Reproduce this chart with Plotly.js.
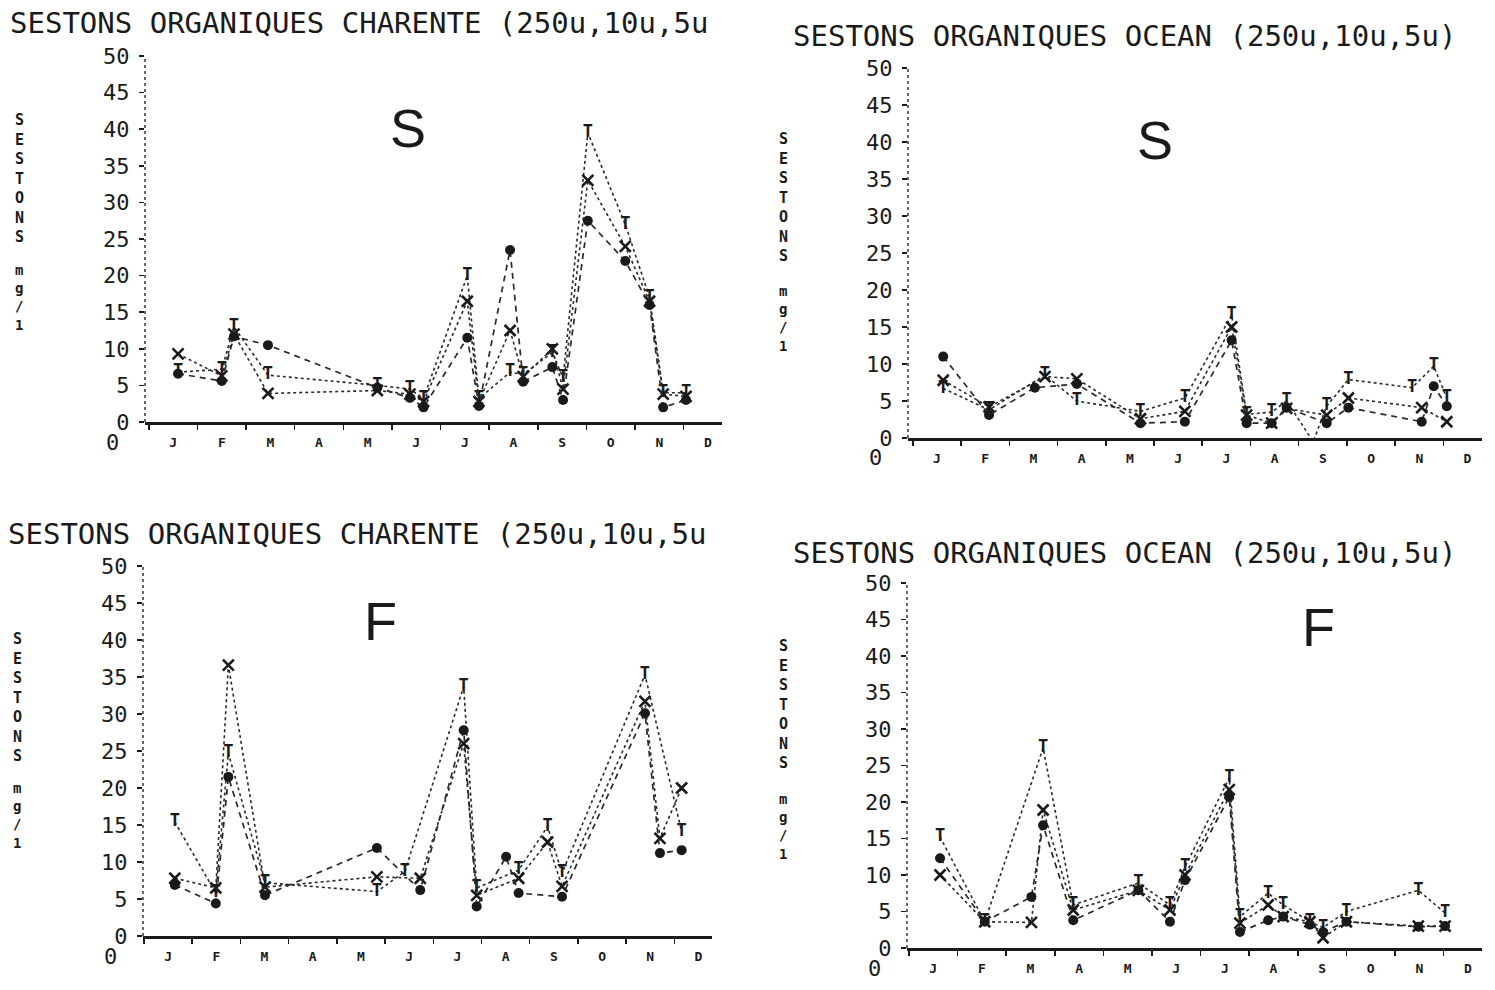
<!DOCTYPE html>
<html><head><meta charset="utf-8">
<script src="https://cdn.plot.ly/plotly-3.0.1.min.js"></script>
<style>html,body{margin:0;padding:0;background:#fff}#chart{width:1495px;height:990px}</style>
</head><body><div id="chart"></div>
<script>
// ---------- data ----------
const monthLabels = ['J','F','M','A','M','J','J','A','S','O','N','D'];
const monthCenters = [0.5,1.5,2.5,3.5,4.5,5.5,6.5,7.5,8.5,9.5,10.5,11.5];
const yTickVals = [0,5,10,15,20,25,30,35,40,45,50];
const yTickText = ['0','5','10','15','20','25','30','35','40','45','50'];

const titleCharente = 'SESTONS ORGANIQUES CHARENTE (250u,10u,5u';
const titleOcean = 'SESTONS ORGANIQUES OCEAN (250u,10u,5u)';
const yTitleWord = ['S','E','S','T','O','N','S'];
const yTitleUnit = ['m','g','/','1'];

// Charente, S  (x = fraction of year in months)
const charS_dates = [0.6, 1.5, 1.75, 2.45, 4.7, 5.37, 5.65, 6.55, 6.79, 7.43, 7.7, 8.3, 8.52, 9.03, 9.8, 10.3, 10.58, 11.05];
const charS_T =     [6.8, 7.2, 13.0, 6.4, 5.0, 4.5, 3.2, 20.0, 3.2, 6.8, 6.5, 9.5, 6.0, 39.5, 27.0, 17.0, 4.0, 4.0];
const charS_X =     [9.3, 6.3, 12.0, 3.9, 4.3, 3.8, 2.8, 16.5, 2.8, 12.5, 6.2, 10.0, 4.5, 33.0, 24.0, 16.5, 3.8, 3.5];
const charS_O =     [6.6, 5.6, 11.7, 10.5, 4.7, 3.3, 2.0, 11.5, 2.2, 23.5, 5.5, 7.5, 3.0, 27.5, 22.0, 16.0, 2.0, 3.0];

// Ocean, S
const oceS_dates = [0.63, 1.58, 2.53, 2.74, 3.4, 4.72, 5.64, 6.61, 6.92, 7.44, 7.75, 8.3, 8.58, 9.03, 10.35, 10.55, 10.8, 11.07];
const oceS_T =     [6.7, 3.8, null, 8.5, 5.0, 3.6, 5.4, 16.6, 3.2, 3.5, 5.0, -0.5, 4.3, 7.9, 6.8, null, 9.7, 5.4];
const oceS_X =     [7.8, 4.2, null, 8.3, 8.0, 2.6, 3.6, 15.0, 3.1, 2.0, 4.0, null, 3.1, 5.4, null, 4.1, null, 2.2];
const oceS_O =     [11.0, 3.1, 6.8, null, 7.3, 2.0, 2.2, 13.2, 2.0, 2.0, 4.1, null, 2.0, 4.1, null, 2.2, 7.0, 4.3];

// Charente, F
const charF_dates = [0.64, 1.49, 1.75, 2.51, 4.83, 5.41, 5.73, 6.63, 6.9, 7.51, 7.77, 8.37, 8.67, 10.39, 10.7, 11.15];
const charF_T =     [15.4, 5.8, 24.7, 7.2, 6.0, 8.7, null, 33.7, 6.5, null, 8.9, 14.8, 8.5, 35.3, null, 14.1];
const charF_X =     [7.8, 6.5, 36.6, 6.6, 8.0, null, 7.8, 26.0, 5.5, null, 7.8, 12.7, 6.7, 31.7, 13.2, 20.0];
const charF_O =     [6.9, 4.4, 21.5, 5.5, 11.9, null, 6.2, 27.8, 4.0, 10.7, 5.8, null, 5.3, 30.1, 11.2, 11.6];

// Ocean, F
const oceF_dates = [0.64, 1.56, 2.52, 2.76, 3.38, 4.72, 5.37, 5.68, 6.59, 6.81, 7.39, 7.7, 8.25, 8.52, 9.0, 10.48, 11.03];
const oceF_T =     [15.2, 3.6, null, 27.4, 5.9, 8.9, 5.9, 11.1, 23.3, 4.3, 7.5, 5.9, 3.6, 2.8, 5.0, 7.9, 4.8];
const oceF_X =     [10.0, 3.6, 3.5, 18.9, 5.2, 7.9, 5.2, 10.0, 21.7, 3.4, 5.9, 4.3, 3.6, 1.4, 3.6, 3.0, 3.0];
const oceF_O =     [12.3, 3.6, 7.0, 16.8, 3.8, 7.9, 3.6, 9.3, 20.7, 2.2, 3.8, 4.3, 3.2, 2.2, 3.6, 2.9, 3.0];

// ---------- layout helpers ----------
const W = 1495, H = 990;
const px = v => v / W;
const py = v => 1 - v / H;
const MONO = '"DejaVu Sans Mono", "Liberation Mono", monospace';
const INK = '#1a1a1a';

const panels = [
  {title: titleCharente, letter: 'S', d: charS_dates, T: charS_T, X: charS_X, O: charS_O,
   box: [145, 722, 56, 422], xr: [-0.08, 11.79], titlePos: [8, 23], letterPos: [408, 128],
   yt: [19, 179, 297]},
  {title: titleOcean, letter: 'S', d: oceS_dates, T: oceS_T, X: oceS_X, O: oceS_O,
   box: [908, 1482, 68, 438], xr: [-0.1, 11.8], titlePos: [791, 36], letterPos: [1155, 140],
   yt: [783, 198, 318]},
  {title: titleCharente, letter: 'F', d: charF_dates, T: charF_T, X: charF_X, O: charF_O,
   box: [143, 712, 566, 936], xr: [-0.02, 11.78], titlePos: [6, 534], letterPos: [380, 621],
   yt: [17, 697, 815]},
  {title: titleOcean, letter: 'F', d: oceF_dates, T: oceF_T, X: oceF_X, O: oceF_O,
   box: [907, 1482, 583, 948], xr: [-0.04, 11.79], titlePos: [791, 553], letterPos: [1318, 627],
   yt: [783, 704, 826]}
];

const traces = [];
const layout = {
  width: W, height: H, margin: {l: 0, r: 0, t: 0, b: 0},
  paper_bgcolor: '#ffffff', plot_bgcolor: '#ffffff',
  showlegend: false, font: {family: MONO, color: INK},
  annotations: [], shapes: []
};

panels.forEach((p, i) => {
  const n = i + 1;
  const xa = 'x' + (n === 1 ? '' : n), ya = 'y' + (n === 1 ? '' : n);
  const xk = 'xaxis' + (n === 1 ? '' : n), yk = 'yaxis' + (n === 1 ? '' : n);

  traces.push({
    x: p.d, y: p.T, xaxis: xa, yaxis: ya, type: 'scatter', mode: 'lines+text',
    text: p.d.map(() => 'T'), textposition: 'middle center',
    textfont: {family: MONO, size: 17, color: INK, weight: 'bold'},
    line: {color: '#2a2a2a', width: 1.6, dash: 'dot'}, connectgaps: true, cliponaxis: false, name: '250u'
  });
  traces.push({
    x: p.d, y: p.X, xaxis: xa, yaxis: ya, type: 'scatter', mode: 'lines+markers',
    marker: {symbol: 'x-thin-open', size: 11, line: {width: 2.6, color: INK}, color: INK},
    line: {color: '#2a2a2a', width: 1.6, dash: 'dot'}, connectgaps: true, cliponaxis: false, name: '10u'
  });
  traces.push({
    x: p.d, y: p.O, xaxis: xa, yaxis: ya, type: 'scatter', mode: 'lines+markers',
    marker: {symbol: 'circle', size: 10, color: INK},
    line: {color: '#2a2a2a', width: 1.7, dash: '6px,5px'}, connectgaps: true, cliponaxis: false, name: '5u'
  });

  const [x0, x1, yTop, yBot] = p.box;
  layout[xk] = {
    domain: [px(x0), px(x1)], range: p.xr, anchor: ya,
    tickmode: 'array', tickvals: monthCenters, ticktext: monthLabels,
    ticks: '', ticklabelstandoff: 6,
    tickfont: {family: MONO, size: 13, color: INK, weight: 'bold'},
    minor: {tickmode: 'linear', tick0: 0, dtick: 1, ticks: 'outside', ticklen: 5, tickwidth: 1.5, tickcolor: INK, showgrid: false},
    showline: true, linecolor: INK, linewidth: 3,
    showgrid: false, zeroline: false, fixedrange: true
  };
  layout[yk] = {
    domain: [py(yBot), py(yTop)], range: [0, 50], anchor: xa,
    tickmode: 'array', tickvals: yTickVals, ticktext: yTickText,
    ticks: 'outside', ticklen: 5, tickwidth: 1.5, tickcolor: INK, ticklabelstandoff: 5,
    tickfont: {family: MONO, size: 22, color: INK},
    showline: false, showgrid: false, zeroline: false, fixedrange: true
  };
  // dotted vertical axis line
  layout.shapes.push({type: 'line', xref: xa + ' domain', yref: ya + ' domain',
    x0: 0, x1: 0, y0: 0, y1: 1, line: {color: INK, width: 1.3, dash: 'dot'}});

  // title
  layout.annotations.push({text: p.title, xref: 'paper', yref: 'paper',
    x: px(p.titlePos[0]), y: py(p.titlePos[1]), xanchor: 'left', yanchor: 'middle',
    showarrow: false, font: {family: MONO, size: 29, color: INK}});
  // big panel letter
  layout.annotations.push({text: p.letter, xref: 'paper', yref: 'paper',
    x: px(p.letterPos[0]), y: py(p.letterPos[1]), xanchor: 'center', yanchor: 'middle',
    showarrow: false, font: {family: '"Liberation Sans", Arial, sans-serif', size: 54, color: INK}});
  // origin zero of the x axis
  layout.annotations.push({text: '0', xref: xa + ' domain', yref: ya + ' domain',
    x: 0, y: 0, xshift: -33, yshift: -20, xanchor: 'center', yanchor: 'middle',
    showarrow: false, font: {family: MONO, size: 22, color: INK}});
  // stacked y title
  layout.annotations.push({text: yTitleWord.join('<br>'), xref: 'paper', yref: 'paper',
    x: px(p.yt[0]), y: py(p.yt[1]), xanchor: 'center', yanchor: 'middle', align: 'center',
    showarrow: false, font: {family: MONO, size: 15, color: INK, weight: 'bold'}});
  layout.annotations.push({text: yTitleUnit.join('<br>'), xref: 'paper', yref: 'paper',
    x: px(p.yt[0]), y: py(p.yt[2]), xanchor: 'center', yanchor: 'middle', align: 'center',
    showarrow: false, font: {family: MONO, size: 14, color: INK, weight: 'bold'}});
});

Plotly.newPlot('chart', traces, layout, {staticPlot: true, displayModeBar: false});
</script></body></html>
